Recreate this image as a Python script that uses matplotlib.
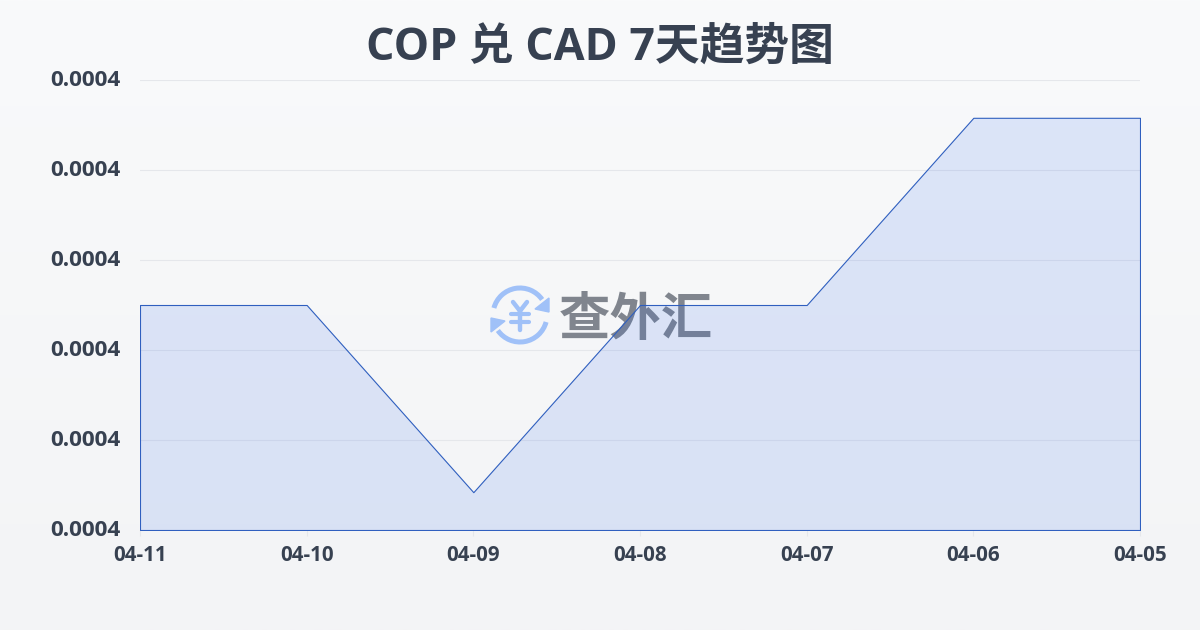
import numpy as np
import matplotlib
matplotlib.use('Agg')
import matplotlib.pyplot as plt
from matplotlib.patches import Arc, Polygon
from matplotlib.transforms import ScaledTranslation

plt.rcParams['font.family'] = ['Open Sans', 'Noto Sans CJK SC', 'DejaVu Sans']

# 数据
dates = ['04-11', '04-10', '04-09', '04-08', '04-07', '04-06', '04-05']
rates = [0.000425, 0.000425, 0.0004042, 0.000425, 0.000425, 0.0004458, 0.0004458]
y_ticks = [0.00040, 0.00041, 0.00042, 0.00043, 0.00044, 0.00045]
y_labels = ['0.0004', '0.0004', '0.0004', '0.0004', '0.0004', '0.0004']
title = 'COP 兑 CAD 7天趋势图'

W, H = 1200, 630
text_color = '#374151'
line_color = '#2f5fbf'
fill_color = '#2563eb'
grid_color = '#e5e7eb'

fig = plt.figure(figsize=(W / 100, H / 100), dpi=100)

# 背景渐变
bg = fig.add_axes([0, 0, 1, 1], zorder=0)
top = np.array([249, 250, 251]) / 255
bottom = np.array([243, 244, 246]) / 255
t = np.linspace(0, 1, 256)[:, None, None]
bg.imshow(top * (1 - t) + bottom * t, aspect='auto', extent=[0, W, H, 0])
bg.set_xlim(0, W)
bg.set_ylim(H, 0)
bg.axis('off')

# 水印，在面积图下面
cx, cy, r = 520, 315, 27
logo = '#a0c1f8'
bg.add_patch(Arc((cx, cy), 2 * r, 2 * r, theta1=195, theta2=325, color=logo, lw=3.6))
bg.add_patch(Arc((cx, cy), 2 * r, 2 * r, theta1=15, theta2=145, color=logo, lw=3.6))
bg.add_patch(Polygon([(549, 298), (549, 312), (535, 309)], color=logo))
bg.add_patch(Polygon([(491, 318), (491, 332), (505, 321)], color=logo))
bg.plot([513, 520, 527], [302, 311, 302], color=logo, lw=3.2, solid_capstyle='round')
bg.plot([520, 520], [311, 330], color=logo, lw=3.2, solid_capstyle='round')
bg.plot([511, 529], [314, 314], color=logo, lw=3, solid_capstyle='round')
bg.plot([511, 529], [322, 322], color=logo, lw=3, solid_capstyle='round')
bg.text(636, 319, '查外汇', color='#80858e', fontsize=37, fontweight='bold', ha='center', va='center',
        family=['Noto Sans CJK SC'])

# 主图
ax = fig.add_axes([140 / W, 1 - 530 / H, 1000 / W, 450 / H], zorder=1)
ax.patch.set_alpha(0)
x = np.arange(len(dates))
ax.fill_between(x, rates, y_ticks[0], facecolor=matplotlib.colors.to_rgba(fill_color, 0.13),
                edgecolor=line_color, linewidth=0.8, zorder=3)
ax.set_xlim(0, len(dates) - 1)
ax.set_ylim(y_ticks[0], y_ticks[-1])
ax.set_xticks(x)
ax.set_xticklabels(dates, fontsize=14.8, fontweight='bold', color=text_color)
ax.set_yticks(y_ticks)
ax.set_yticklabels(y_labels, fontsize=16.2, fontweight='bold', color=text_color)
ax.tick_params(axis='x', length=4, color=grid_color, pad=6.5)
ax.tick_params(axis='y', length=0, pad=14)
ax.grid(axis='y', color=grid_color, linewidth=0.8, zorder=1)
ax.set_axisbelow(True)
for s in ax.spines.values():
    s.set_visible(False)

# y 轴标签稍微往上挪一点
for lab in ax.get_yticklabels():
    lab.set_transform(lab.get_transform() + ScaledTranslation(0, 1.5 / 72, fig.dpi_scale_trans))

fig.text(600 / W, 1 - 48 / H, title, fontsize=32.2, fontweight='bold', color=text_color,
         ha='center', va='center')

fig.savefig('out.png', dpi=100)
